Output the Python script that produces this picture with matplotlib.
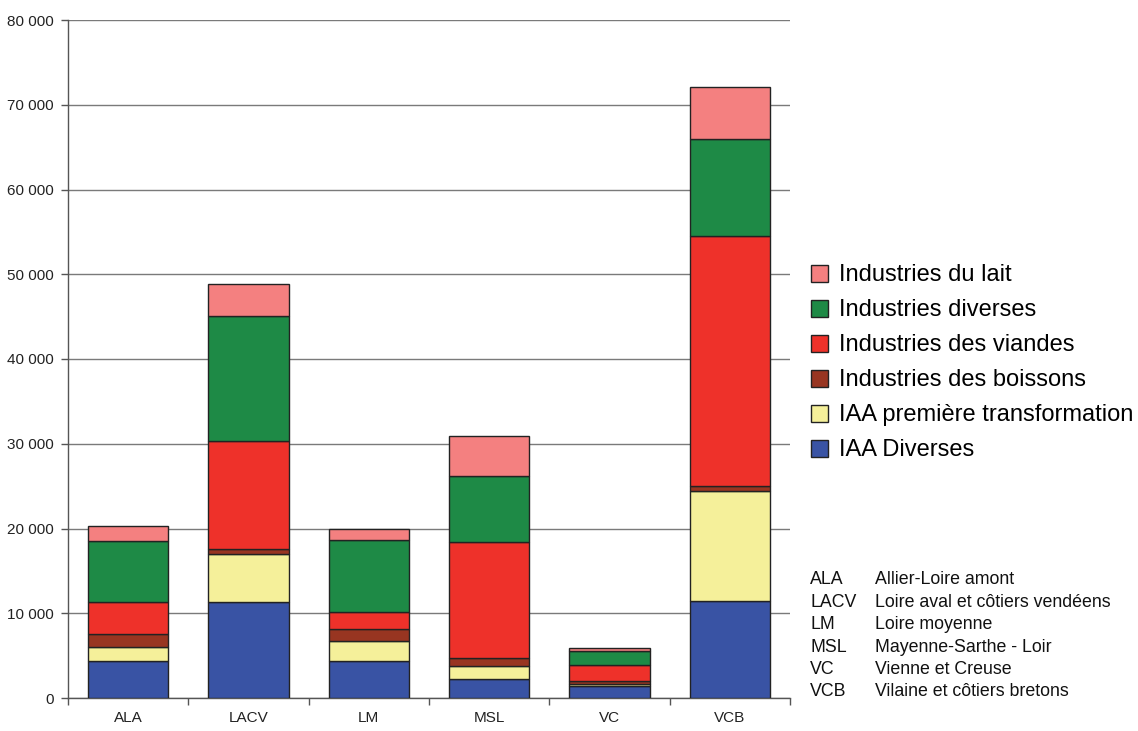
import matplotlib
matplotlib.use("Agg")
import matplotlib.pyplot as plt
from matplotlib.ticker import FuncFormatter, FixedLocator
import numpy as np

plt.rcParams['font.family'] = ['Liberation Sans', 'DejaVu Sans']

categories = ["ALA", "LACV", "LM", "MSL", "VC", "VCB"]
series_names = ["IAA Diverses", "IAA première transformation", "Industries des boissons",
                "Industries des viandes", "Industries diverses", "Industries du lait"]
iaa_diverses = [4400, 11300, 4400, 2250, 1400, 11500]
iaa_premiere = [1600, 5700, 2350, 1550, 250, 12900]
boissons = [1600, 600, 1350, 950, 300, 600]
viandes = [3700, 12700, 2000, 13600, 1950, 29500]
diverses = [7200, 14800, 8600, 7900, 1650, 11400]
lait = [1800, 3800, 1200, 4700, 400, 6200]
colors = ["#3953A4", "#F5F09A", "#983521", "#EE312A", "#1E8A46", "#F48080"]

abbrevs = ["ALA", "LACV", "LM", "MSL", "VC", "VCB"]
full_names = ["Allier-Loire amont", "Loire aval et côtiers vendéens", "Loire moyenne",
              "Mayenne-Sarthe - Loir", "Vienne et Creuse", "Vilaine et côtiers bretons"]

data = [iaa_diverses, iaa_premiere, boissons, viandes, diverses, lait]

fig = plt.figure(figsize=(11.38, 7.31), dpi=100)
ax = fig.add_axes([68/1138, 1 - 698/731, (790-68)/1138, (698-20)/731])

x = np.arange(len(categories))
bottom = np.zeros(len(categories))
handles = []
for name, vals, c in zip(series_names, data, colors):
    h = ax.bar(x, vals, width=0.665, bottom=bottom, color=c, edgecolor="#222222",
               linewidth=1.0, label=name, zorder=3)
    handles.append(h)
    bottom += np.array(vals)

ax.set_xlim(-0.5, len(categories) - 0.5)
ax.set_ylim(0, 80000)
ax.set_yticks(np.arange(0, 80001, 10000))
ax.yaxis.set_major_formatter(FuncFormatter(lambda v, p: f"{int(v):,}".replace(",", " ")))
ax.grid(axis="y", color="#7a7a7a", linewidth=1.0, zorder=0)
ax.set_axisbelow(True)

ax.set_xticks(x)
ax.set_xticklabels(categories)
ax.xaxis.set_minor_locator(FixedLocator(np.arange(-0.5, len(categories), 1.0)))
ax.tick_params(axis="x", which="major", length=0, pad=9, labelsize=11, colors="#222222")
ax.tick_params(axis="x", which="minor", length=5, width=1, color="#555555", direction="out")
ax.tick_params(axis="y", length=5, width=1, color="#555555", labelsize=11, labelcolor="#222222", pad=5)

for s in ["top", "right"]:
    ax.spines[s].set_visible(False)
for s in ["left", "bottom"]:
    ax.spines[s].set_color("#555555")
    ax.spines[s].set_linewidth(1.0)

leg = fig.legend(handles[::-1], series_names[::-1], loc="upper left",
                 bbox_to_anchor=(802/1138, 1 - 255/731), frameon=False,
                 fontsize=17, handlelength=0.72, handleheight=0.72,
                 handletextpad=0.45, labelspacing=0.55, borderaxespad=0)
for p in leg.get_patches():
    p.set_edgecolor("#222222")

y0 = 580
for i, (a, f) in enumerate(zip(abbrevs, full_names)):
    yy = 1 - (y0 + i * 22.4) / 731
    fig.text(810/1138, yy, a, fontsize=12.8, va="center", ha="left", color="#111111")
    fig.text(875/1138, yy, f, fontsize=12.8, va="center", ha="left", color="#111111")

fig.savefig("out.png", dpi=100)
